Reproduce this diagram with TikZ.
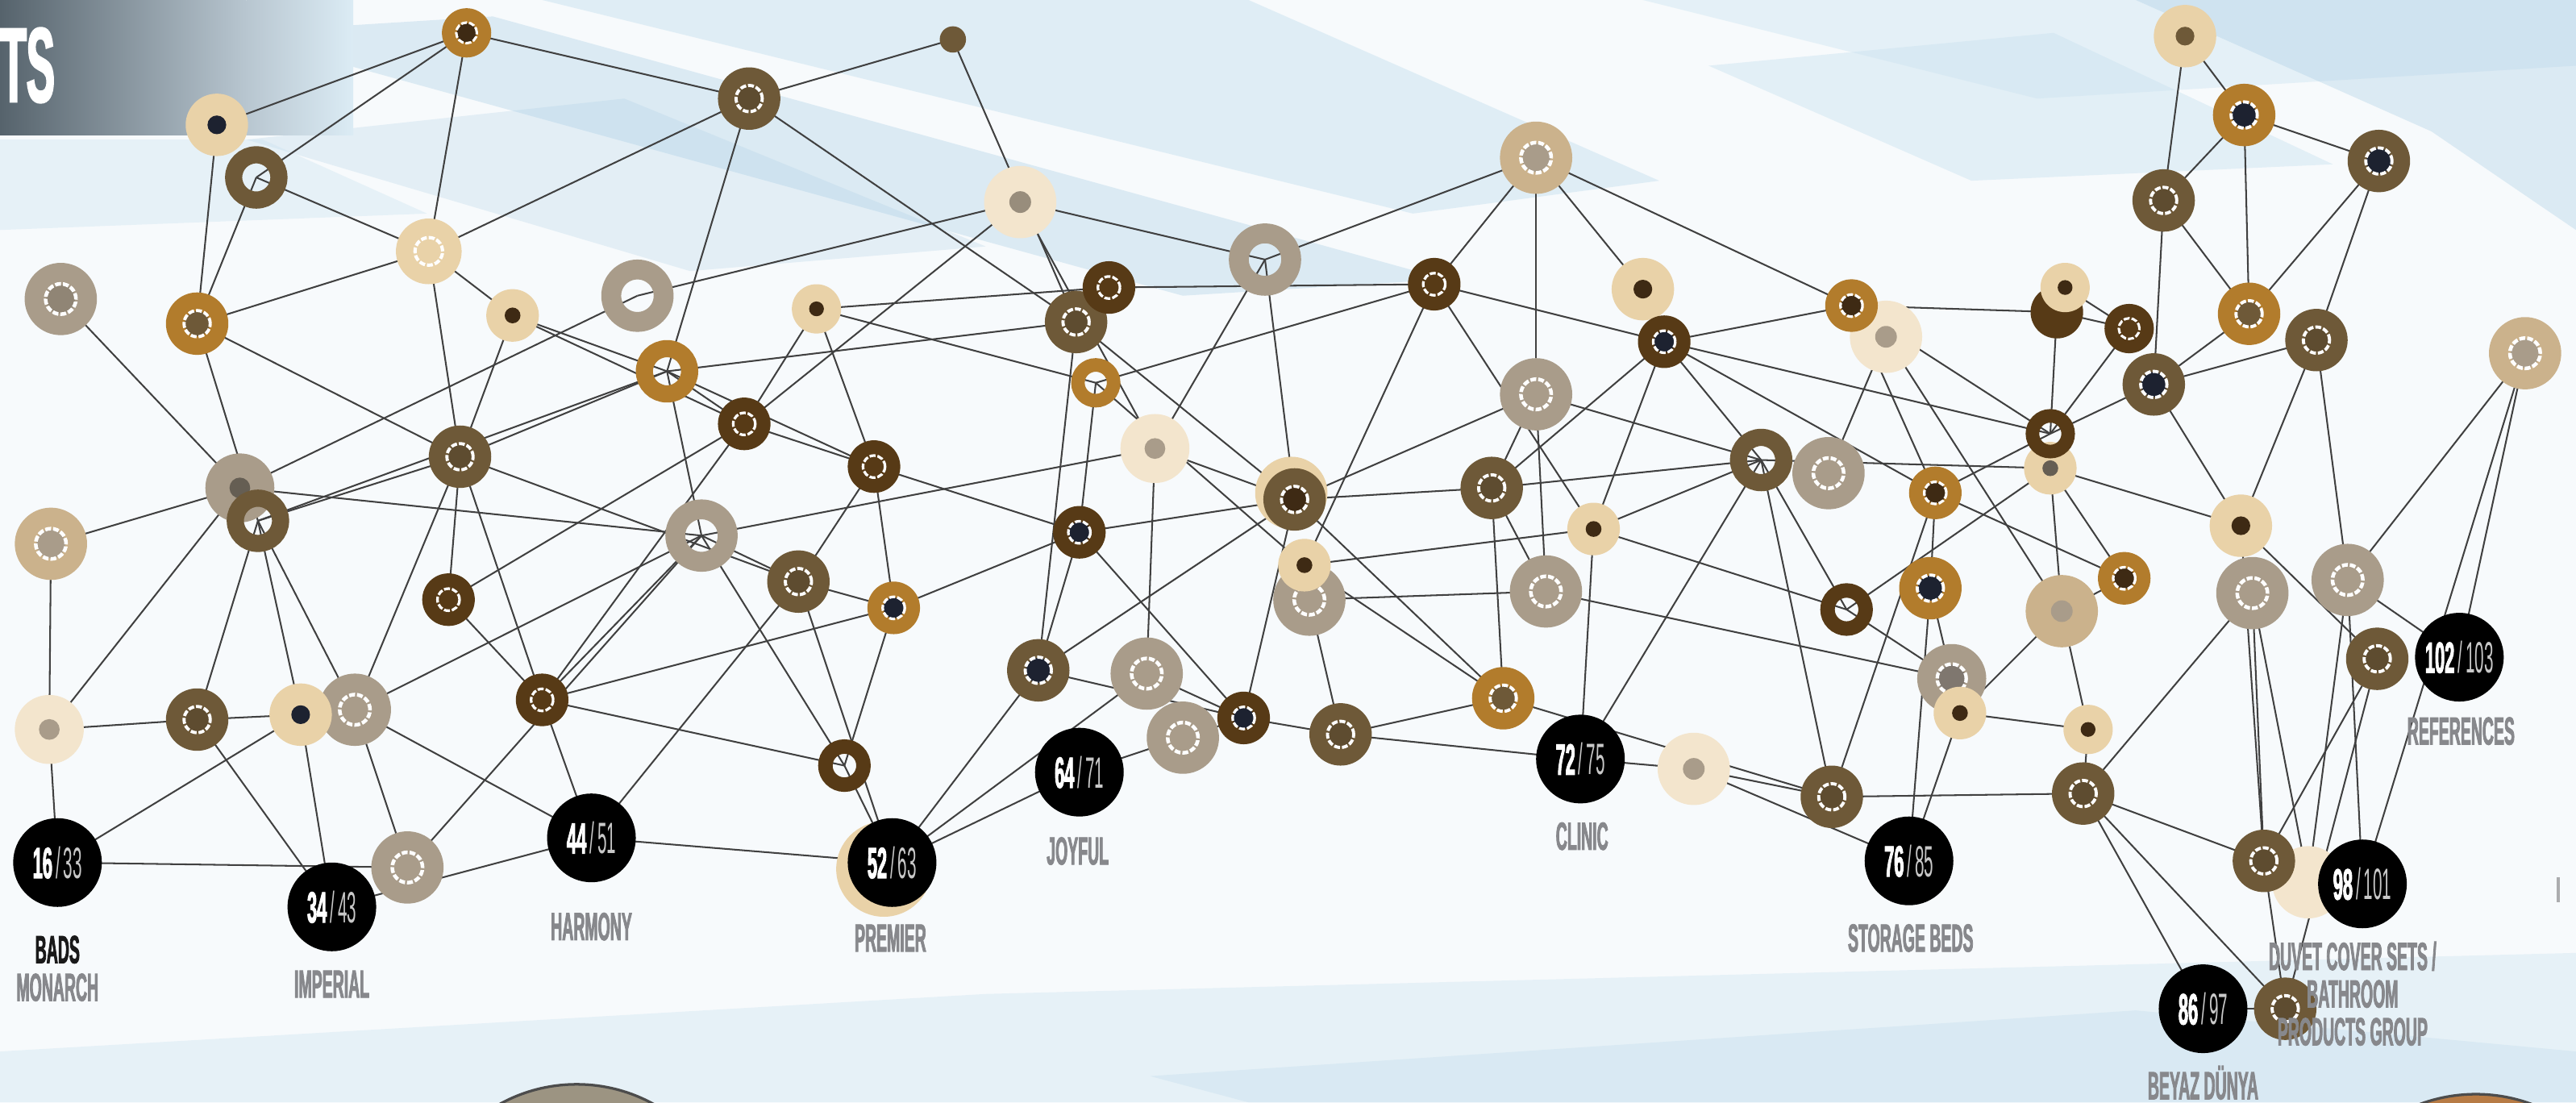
\documentclass[tikz,border=0pt]{standalone}
\usepackage{fontspec}
\newfontfamily\condfont[FakeStretch=0.38]{Liberation Sans}
\newfontfamily\heavyfont[FakeStretch=0.4, FakeBold=1.6]{Liberation Sans}
\usetikzlibrary{positioning}
\pgfdeclarelayer{back}
\pgfdeclarelayer{wires}
\pgfsetlayers{back,wires,main}
\definecolor{dkb}{HTML}{573A16}
\definecolor{mdb}{HTML}{6E5938}
\definecolor{gld}{HTML}{B27C2C}
\definecolor{bge}{HTML}{E9D2A8}
\definecolor{crm}{HTML}{F3E5CD}
\definecolor{gry}{HTML}{A99C8A}
\definecolor{tan}{HTML}{CBB28C}
\definecolor{navy}{HTML}{1D2230}
\definecolor{dkc}{HTML}{3E2A14}
\definecolor{lblgray}{HTML}{87888C}
\definecolor{numlight}{HTML}{C8C8C8}
\definecolor{wirec}{HTML}{404040}
\definecolor{bgbase}{HTML}{F7FAFC}
\definecolor{skya}{HTML}{A8CDE4}
\definecolor{skyb}{HTML}{C9E2F0}
\definecolor{bnrdark}{HTML}{56636C}
\definecolor{bnrlight}{HTML}{B8C6D0}
\definecolor{photoa}{HTML}{9C9482}
\definecolor{photob}{HTML}{B77B45}
\newcommand\lblfont{\heavyfont\bfseries\fontsize{17}{17}\selectfont}
\newcommand\numfont{\condfont\fontsize{19}{19}\selectfont}
\newcommand\secpages[2]{{\heavyfont\bfseries #1}\hspace{0.5mm}{\color{numlight}/}\hspace{0.5mm}{\color{numlight}#2}}

\begin{document}
\begin{tikzpicture}[x=0.25mm, y=-0.25mm,
  wire/.style={draw=wirec, line width=0.25mm},
  ringn/.style n args={3}{circle, inner sep=0pt, minimum size=#2*0.5mm, fill=#1,
    path picture={\fill[#3] (path picture bounding box.center) circle[radius=#2*0.1mm];
      \draw[white, line width=#2*0.025mm, dash pattern=on 0.9mm off 0.3mm] (path picture bounding box.center) circle[radius=#2*0.105mm];}},
  dotn/.style n args={3}{circle, inner sep=0pt, minimum size=#2*0.5mm, fill=#1,
    path picture={\fill[#3] (path picture bounding box.center) circle[radius=#2*0.075mm];}},
  holen/.style 2 args={circle, inner sep=0pt, minimum size=#2*0.3625mm, draw=#1, line width=#2*0.1375mm},
  numc/.style={circle, fill=black, inner sep=0pt, minimum size=13.5mm, text=white, font=\numfont},
  lbl/.style={text=lblgray, font=\lblfont, inner sep=0pt}]
\useasboundingbox (0,0) rectangle (1568,671);

\begin{pgfonlayer}{back}
\fill[bgbase] (0,0) rectangle (1568,671);
\fill[skyb, opacity=0.5] (330,0) -- (760,0) -- (1010,110) -- (860,130) -- cycle;
\fill[skya, opacity=0.35] (140,20) -- (300,10) -- (880,170) -- (720,180) -- cycle;
\fill[skya, opacity=0.25] (150,85) -- (380,60) -- (600,150) -- (420,165) -- cycle;
\fill[skyb, opacity=0.45] (1040,40) -- (1250,20) -- (1420,100) -- (1200,110) -- cycle;
\fill[skyb, opacity=0.4] (1000,0) -- (1568,0) -- (1568,40) -- (1240,60) -- cycle;
\fill[skya, opacity=0.35] (1300,0) -- (1568,0) -- (1568,140) -- (1480,80) -- cycle;
\fill[skyb, opacity=0.35] (0,85) -- (160,85) -- (260,130) -- (0,140) -- cycle;
\fill[skyb, opacity=0.35] (0,640) -- (600,605) -- (1568,580) -- (1568,671) -- (0,671) -- cycle;
\fill[skya, opacity=0.2] (700,655) -- (1300,615) -- (1568,640) -- (1568,671) -- (760,671) -- cycle;
\shade[left color=bnrdark, right color=bnrlight] (0,0) rectangle (150,82);
\shade[left color=bnrlight, right color=skyb!60!bgbase] (150,0) rectangle (215,82);
\draw[black!70, line width=0.4mm, fill=photoa] (351,757) circle[radius=24.25mm];
\draw[black!70, line width=0.4mm, fill=photob] (1507,764) circle[radius=24.5mm];
\fill[lblgray!70] (1556,534) rectangle (1558,549);
\end{pgfonlayer}

\node[text=white, font=\heavyfont\bfseries\fontsize{46}{46}\selectfont, inner sep=0pt, anchor=base west] (banner) at (0,62) {TS};

\node[ringn={gld}{15}{dkc}] (d1) at (284,20) {};
\node[dotn={bge}{19}{navy}] (d2) at (132,76) {};
\node[holen={mdb}{19}] (d3) at (156,108) {};
\node[ringn={mdb}{19}{mdb!85!black}] (d4) at (456,60) {};
\node[dotn={mdb}{8}{mdb}] (d5) at (580,24) {};
\node[ringn={gry}{22}{gry!85!black}] (d6) at (37,182) {};
\node[ringn={gld}{19}{mdb}] (d7) at (120,197) {};
\node[ringn={bge}{20}{bge}] (d8) at (261,153) {};
\node[dotn={bge}{16}{dkc}] (d9) at (312,192) {};
\node[holen={gry}{22}] (d10) at (388,180) {};
\node[holen={gld}{19}] (d11) at (406,226) {};
\node[dotn={crm}{22}{gry!90!black}] (d12) at (621,123) {};
\node[dotn={bge}{15}{dkc}] (d13) at (497,188) {};
\node[ringn={mdb}{19}{mdb!85!black}] (d15) at (655,196) {};
\node[ringn={dkb}{16}{dkb}] (d14) at (675,175) {};
\node[holen={gld}{15}] (d16) at (667,233) {};
\node[holen={gry}{22}] (d17) at (770,158) {};
\node[ringn={dkb}{16}{dkb}] (d18) at (873,173) {};
\node[ringn={tan}{22}{gry}] (d19) at (935,96) {};
\node[dotn={bge}{19}{dkc}] (d20) at (1000,176) {};
\node[ringn={dkb}{16}{navy}] (d21) at (1013,208) {};
\node[dotn={crm}{22}{gry}] (d23) at (1148,205) {};
\node[ringn={gld}{16}{dkc}] (d22) at (1127,186) {};
\node[dotn={dkb}{16}{dkb}] (d25) at (1252,190) {};
\node[dotn={bge}{15}{dkc}] (d24) at (1257,175) {};
\node[ringn={dkb}{15}{dkb}] (d26) at (1296,200) {};
\node[dotn={bge}{19}{mdb}] (d27) at (1330,22) {};
\node[ringn={gld}{19}{navy}] (d28) at (1366,70) {};
\node[ringn={mdb}{19}{navy}] (d29) at (1448,98) {};
\node[ringn={mdb}{19}{mdb!85!black}] (d30) at (1317,122) {};
\node[ringn={gld}{19}{mdb}] (d31) at (1369,191) {};
\node[ringn={mdb}{19}{mdb!85!black}] (d32) at (1410,207) {};
\node[ringn={mdb}{19}{navy}] (d33) at (1311,234) {};
\node[ringn={tan}{22}{gry}] (d34) at (1537,215) {};

\node[ringn={tan}{22}{gry}] (d35) at (31,331) {};
\node[dotn={gry}{21}{gry!60!black}] (d36) at (146,297) {};
\node[holen={mdb}{19}] (d37) at (157,317) {};
\node[ringn={mdb}{19}{mdb!85!black}] (d38) at (280,278) {};
\node[ringn={dkb}{16}{dkb}] (d39) at (453,258) {};
\node[ringn={dkb}{16}{dkb}] (d40) at (532,284) {};
\node[holen={gry}{22}] (d41) at (427,326) {};
\node[ringn={mdb}{19}{mdb!85!black}] (d42) at (486,354) {};
\node[ringn={dkb}{16}{dkb}] (d43) at (273,365) {};
\node[ringn={gld}{16}{navy}] (d44) at (544,370) {};
\node[ringn={dkb}{16}{navy}] (d45) at (657,324) {};
\node[dotn={crm}{21}{gry}] (d46) at (703,273) {};
\node[dotn={bge}{22}{bge}] (d47h) at (786,300) {};
\node[ringn={mdb}{19}{dkc}] (d47) at (788,304) {};
\node[ringn={gry}{22}{gry}] (d49) at (797,365) {};
\node[dotn={bge}{16}{dkc}] (d48) at (794,344) {};
\node[ringn={gry}{22}{gry}] (d50) at (935,240) {};
\node[ringn={mdb}{19}{mdb!85!black}] (d51) at (908,297) {};
\node[dotn={bge}{16}{dkc}] (d52) at (970,322) {};
\node[ringn={gry}{22}{gry}] (d53) at (941,360) {};
\node[ringn={gry}{22}{gry}] (d55) at (1113,288) {};
\node[holen={mdb}{19}] (d54) at (1072,280) {};
\node[ringn={gld}{16}{dkc}] (d56) at (1178,300) {};
\node[dotn={bge}{16}{gry!60!black}] (d58) at (1248,285) {};
\node[holen={dkb}{15}] (d57) at (1248,264) {};
\node[ringn={gry}{22}{gry}] (d60) at (1371,361) {};
\node[dotn={bge}{19}{dkc}] (d59) at (1364,320) {};
\node[ringn={gry}{22}{gry}] (d61) at (1429,353) {};
\node[ringn={gld}{16}{dkc}] (d62) at (1293,352) {};
\node[ringn={gld}{19}{navy}] (d63) at (1175,358) {};
\node[holen={dkb}{16}] (d64) at (1124,371) {};
\node[dotn={tan}{22}{gry}] (d65) at (1255,372) {};

\node[dotn={crm}{21}{gry}] (d66) at (30,444) {};
\node[ringn={mdb}{19}{mdb!85!black}] (d67) at (120,438) {};
\node[ringn={gry}{22}{gry}] (d69) at (216,432) {};
\node[dotn={bge}{19}{navy}] (d68) at (183,435) {};
\node[ringn={dkb}{16}{dkb}] (d70) at (330,426) {};
\node[ringn={gry}{22}{gry}] (d71) at (248,528) {};
\node[holen={dkb}{16}] (d72) at (514,466) {};
\node[ringn={mdb}{19}{navy}] (d73) at (632,408) {};
\node[ringn={gry}{22}{gry}] (d74) at (698,410) {};
\node[ringn={gry}{22}{gry}] (d75) at (720,449) {};
\node[ringn={dkb}{16}{navy}] (d76) at (757,437) {};
\node[ringn={mdb}{19}{mdb!85!black}] (d77) at (816,447) {};
\node[ringn={gld}{19}{mdb}] (d78) at (915,425) {};
\node[dotn={crm}{22}{gry}] (d79) at (1031,468) {};
\node[ringn={mdb}{19}{mdb!85!black}] (d80) at (1115,485) {};
\node[ringn={gry}{21}{gry!70!navy}] (d81) at (1188,413) {};
\node[dotn={bge}{16}{dkc}] (d82) at (1193,434) {};
\node[dotn={bge}{15}{dkc}] (d83) at (1271,444) {};
\node[ringn={mdb}{19}{mdb!85!black}] (d84) at (1268,483) {};
\node[ringn={mdb}{19}{mdb!85!black}] (d85) at (1447,401) {};
\node[dotn={crm}{22}{crm}] (d87) at (1405,537) {};
\node[ringn={mdb}{19}{mdb!85!black}] (d86) at (1378,524) {};
\node[ringn={mdb}{19}{mdb!85!black}] (d88) at (1391,614) {};
\node[dotn={bge}{29}{bge}] (d89) at (538,529) {};

\node[numc] (p16) at (35,525) {\secpages{16}{33}};
\node[numc] (p34) at (202,552) {\secpages{34}{43}};
\node[numc] (p44) at (360,510) {\secpages{44}{51}};
\node[numc] (p52) at (543,525) {\secpages{52}{63}};
\node[numc] (p64) at (657,470) {\secpages{64}{71}};
\node[numc] (p72) at (962,462) {\secpages{72}{75}};
\node[numc] (p76) at (1162,524) {\secpages{76}{85}};
\node[numc] (p86) at (1341,614) {\secpages{86}{97}};
\node[numc] (p98) at (1438,538) {\secpages{98}{101}};
\node[numc] (p102) at (1497,400) {\secpages{102}{103}};

\begin{pgfonlayer}{wires}
\foreach \i/\j in {d1/d2,d1/d3,d1/d8,d1/d4,d2/d7,d3/d7,d3/d8,d4/d8,d4/d5,d4/d11,d4/d15,d7/d8,d7/d38,d7/d37,d6/d36,d8/d38,d8/d9,d9/d11,d9/d39,d9/d38,d10/d12,d10/d36,d11/d15,d11/d37,d11/d41,d11/d39,d11/d40,d11/d38,d13/d39,d13/d40,d13/d14,d13/d16,d5/d15,d12/d17,d12/d39,d12/d46,d14/d18,d16/d18,d16/d45,d15/d47,d16/d48,d15/d73,d17/d19,d17/d46,d17/d47,d18/d21,d18/d48,d18/d52,d19/d50,d19/d20,d19/d18,d19/d22,d21/d51,d21/d52,d50/d54,d50/d51,d50/d47,d46/d47,d47/d51,d51/d53,d52/d54,d41/d46,d50/d53}
  {\draw[wire] (\i.center) -- (\j.center);}
\foreach \i/\j in {d35/d36,d35/d66,d66/p16,d66/d67,d67/d68,p16/d68,p16/d71,p34/p44,p44/p52,d36/d41,d37/d38,d37/d67,d37/d68,d37/d69,d36/d66,d38/d43,d38/d70,d38/d42,d38/d69,d43/d39,d43/d70,d70/d44,d70/p44,d70/d41,d70/d39,p44/d42,d69/p44,d67/p34,d68/p34,d69/d71,d71/d41,d69/d41,d41/d42,d42/d44,d42/p52,d44/d72,d72/p52,d70/d72,d41/d72,d44/d45,d40/d45,d40/d44,d40/d42,d39/d40,p52/d73,p52/p64,p52/d74,d73/d45,d73/d76,d73/d47,d45/d76,d45/d47,d46/d74,p64/d75,d74/d76,d75/d76}
  {\draw[wire] (\i.center) -- (\j.center);}
\foreach \i/\j in {d27/d30,d27/d28,d28/d30,d28/d29,d28/d31,d29/d31,d29/d32,d30/d31,d30/d33,d31/d33,d32/d33,d33/d57,d33/d59,d32/d59,d34/d61,d34/p102,d22/d25,d22/d21,d22/d56,d22/d57,d23/d55,d23/d65,d21/d56,d21/d57,d21/d54,d25/d57,d25/d26,d24/d26,d26/d57,d56/d57,d54/d58,d58/d59,d56/d63,d56/d62}
  {\draw[wire] (\i.center) -- (\j.center);}
\foreach \i/\j in {d76/d77,d77/p72,d77/d78,d48/d78,d47/d78,d48/d52,d51/d78,d52/p72,d52/d64,d49/d53,d53/d81,p72/d54,p72/d79,d78/d80,d79/d80,d79/p76,d54/d80,d54/d64,d51/d54,d56/d80,d64/d58,d64/d81,d63/d81,d63/p76,d65/d62,d65/d83,d65/d82,d58/d65,d58/d62,d59/d86,d59/d85,d85/d86,d86/d88,d84/d86,d84/d88,d84/p86,d84/d83,d80/d84,d84/d60,d82/d83,d82/p76,p102/d61,p98/d61,p98/d34,p86/d88,d60/d86,d49/d77,d47/d76,d32/d61,d85/d88,d60/d87,d61/d87}
  {\draw[wire] (\i.center) -- (\j.center);}
\end{pgfonlayer}

\node[lbl, text=black!90] (t16a) at (35,578) {BADS};
\node[lbl] (t16b) at (35,601) {MONARCH};
\node[lbl] (t34) at (202,599) {IMPERIAL};
\node[lbl] (t44) at (360,564) {HARMONY};
\node[lbl] (t52) at (542,571) {PREMIER};
\node[lbl] (t64) at (656,518) {JOYFUL};
\node[lbl] (t72) at (963,509) {CLINIC};
\node[lbl] (t76) at (1163,571) {STORAGE BEDS};
\node[lbl] (t102) at (1498,445) {REFERENCES};
\node[lbl] (t98a) at (1432,582) {DUVET COVER SETS /};
\node[lbl] (t98b) at (1432,605) {BATHROOM};
\node[lbl] (t98c) at (1432,628) {PRODUCTS GROUP};
\node[lbl] (t86) at (1341,659) {BEYAZ DÜNYA};
\end{tikzpicture}
\end{document}
